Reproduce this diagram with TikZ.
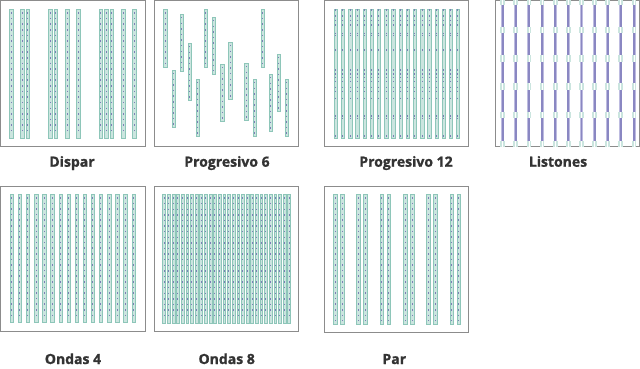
\documentclass[tikz,border=0pt]{standalone}
\usepackage{fontspec}
\setmainfont{Open Sans}[BoldFont={Open Sans Bold},BoldFeatures={FakeBold=1.2}]
\definecolor{frame}{HTML}{8C8C8C}
\definecolor{stripfill}{HTML}{CBE5DF}
\definecolor{stripline}{HTML}{8EC6B9}
\definecolor{joint}{HTML}{7C7FB6}
\definecolor{lab}{HTML}{333333}
\definecolor{liston}{HTML}{8A87C2}
\definecolor{listonlight}{HTML}{BDBBE0}
\tikzset{
  panel/.style={draw=frame, line width=0.9pt},
  lbl/.style={font=\bfseries\fontsize{14}{16}\selectfont, text=lab, anchor=base, inner sep=0pt},
  stripbody/.style={draw=stripline, fill=stripfill, line width=0.3pt},
  jointmarks/.style={draw=joint, line width=0.9pt, dash pattern=on 1.5 off 4.1},
}
\newcommand\hw{1.7}
\newcommand\mystrip[3]{%
  \draw[stripbody] (#1-\hw,#2) rectangle (#1+\hw,#3);
  \draw[jointmarks] (#1,#2+3) -- (#1,#3-3);
}
\begin{document}
\begin{tikzpicture}[x=1pt,y=-1pt]
\useasboundingbox (0,0) rectangle (640,369);
% panels
\draw[panel] (0.6,0.6) rectangle (145,146);
\draw[panel] (154,0.6) rectangle (298,146);
\draw[panel] (324,0.6) rectangle (468,146);
\draw[panel] (495,0.6) rectangle (639.4,146);
\draw[panel] (0.6,186) rectangle (145,331);
\draw[panel] (154,186) rectangle (298,331);
\draw[panel] (324,186) rectangle (468,332);
% Dispar
\foreach \i in {0,2,3,7,8,10,12,16,17,18,20,22}{
  \pgfmathsetmacro\xx{11+5.6*\i}
  \mystrip{\xx}{9.3}{138}
}
% Progresivo 6
\foreach \i/\t in {0/9.3,1/70,2/14,3/43,4/79,5/9.3,6/17,7/64,8/42,10/63,11/79,12/9.3,13/74,14/54,15/79}{
  \pgfmathsetmacro\xx{165.3+8.1*\i}
  \pgfmathsetmacro\bb{\t+57.5}
  \mystrip{\xx}{\t}{\bb}
}
% Progresivo 12
\foreach \i in {0,...,17}{
  \pgfmathsetmacro\xx{335.7+7.19*\i}
  \draw[stripbody] (\xx-\hw,9.3) rectangle (\xx+\hw,137.7);
  \foreach \m in {10,16,20.7,25,33.3,35.5,50,70,74,77.3,81.7,87.3,91.7,98.3,116,118.5,136}{
    \draw[draw=joint, line width=0.9pt] (\xx,\m-0.75) -- (\xx,\m+0.75);
  }
}
% Listones
\foreach \i in {0,...,10}{
  \pgfmathsetmacro\xx{502.7+13.13*\i}
  \draw[listonlight, line width=3pt] (\xx,0) -- (\xx,146);
  \draw[liston, line width=1.8pt] (\xx,0) -- (\xx,146);
  \foreach \c in {1.5,30,58.5,86.5,115,144}{
    \fill[stripfill] (\xx-2.4,\c-3.2) rectangle (\xx+2.4,\c+3.2);
    \draw[white, line width=0.8pt] (\xx,\c-3.2) -- (\xx,\c+3.2);
  }
}
% Ondas 4
\foreach \i in {0,...,15}{
  \pgfmathsetmacro\xx{11.7+8.11*\i}
  \mystrip{\xx}{194}{321.7}
}
% Ondas 8
\renewcommand\hw{1.4}
\foreach \i in {0,...,27}{
  \pgfmathsetmacro\xx{164+4.63*\i}
  \mystrip{\xx}{194.3}{322.7}
}
\renewcommand\hw{1.7}
% Par
\foreach \j in {0,...,5}{
  \pgfmathsetmacro\xa{335+23.33*\j}
  \pgfmathsetmacro\xb{342+23.33*\j}
  \mystrip{\xa}{194}{324}
  \mystrip{\xb}{194}{324}
}
% labels
\node[lbl] (l1) at (72,166.7) {Dispar};
\node[lbl] (l2) at (227,166.7) {Progresivo 6};
\node[lbl] (l3) at (406,166.7) {Progresivo 12};
\node[lbl] (l4) at (558,166.7) {Listones};
\node[lbl] (l5) at (73,364) {Ondas 4};
\node[lbl] (l6) at (226.7,364) {Ondas 8};
\node[lbl] (l7) at (394.3,364) {Par};
\end{tikzpicture}
\end{document}
